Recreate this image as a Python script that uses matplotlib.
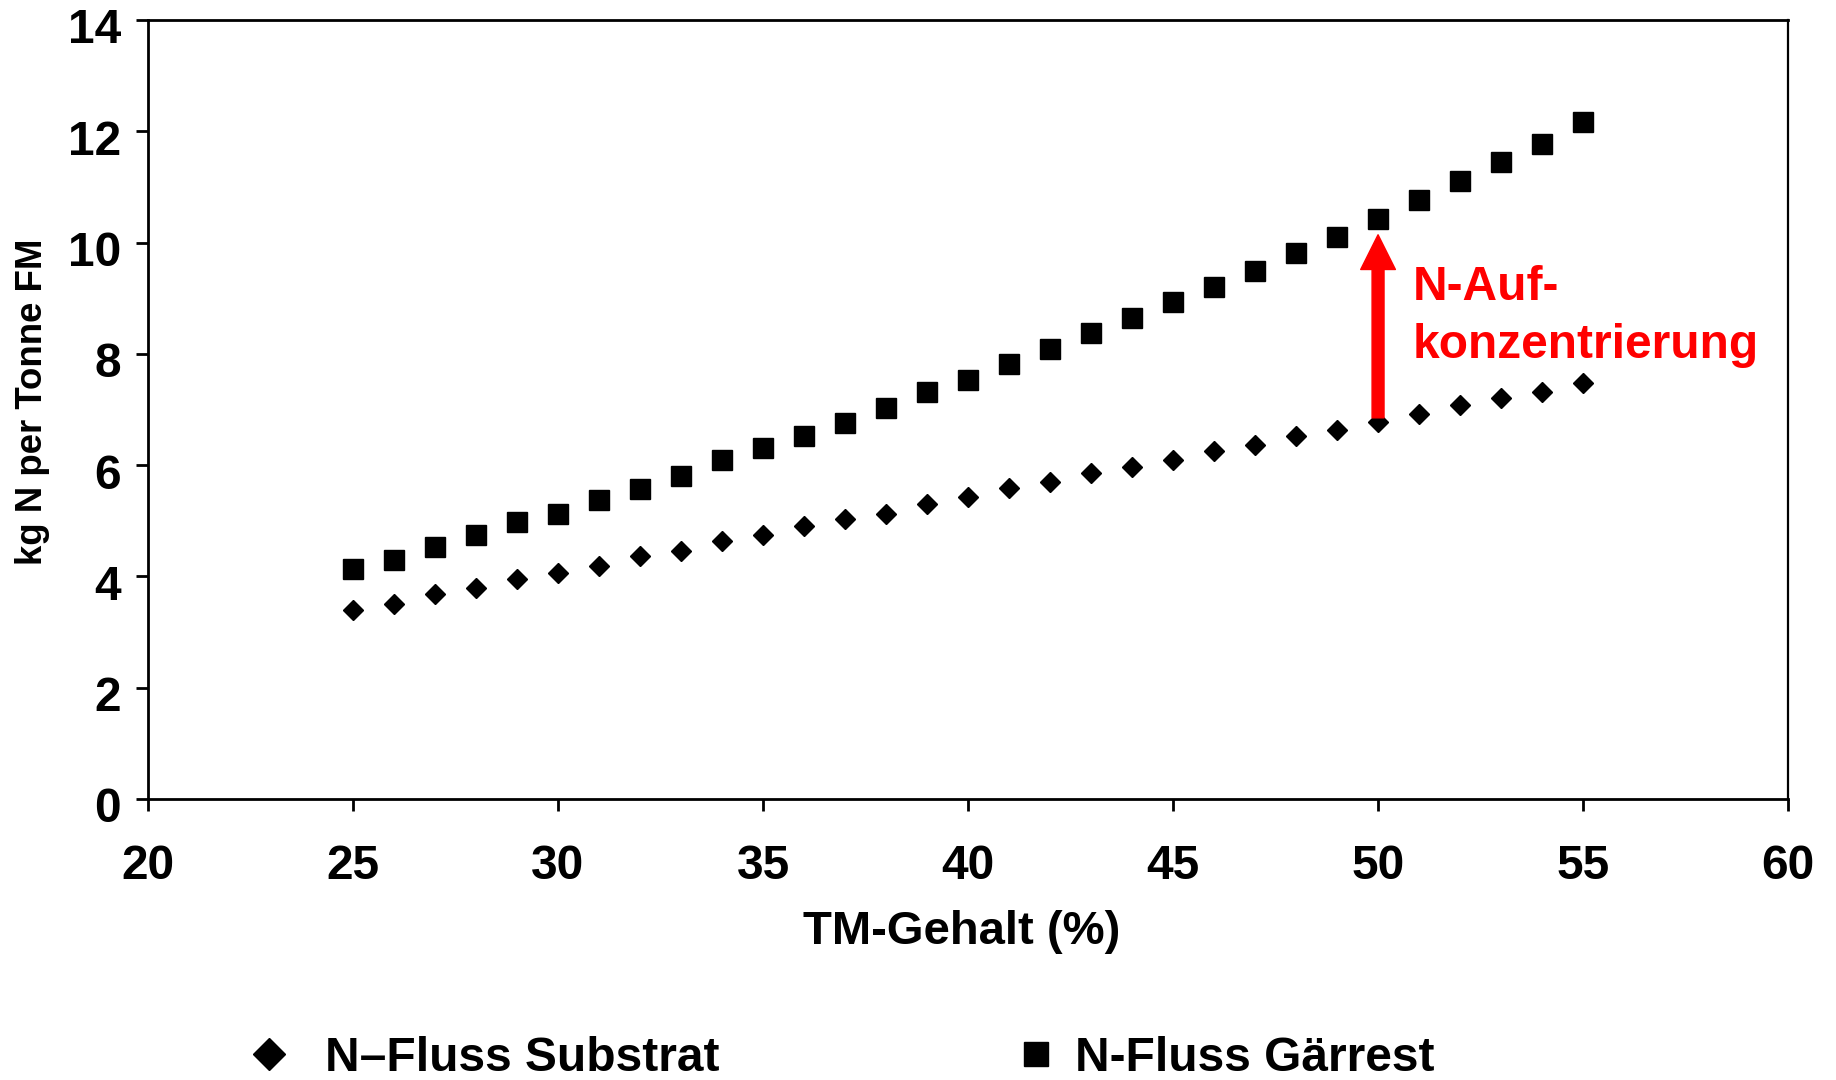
import matplotlib
matplotlib.use("Agg")
import matplotlib.pyplot as plt
from matplotlib.lines import Line2D
import matplotlib.transforms as mtransforms

plt.rcParams['font.family'] = ['Liberation Sans', 'DejaVu Sans']
plt.rcParams['font.weight'] = 'bold'

# Data
tm_gehalt = [25, 26, 27, 28, 29, 30, 31, 32, 33, 34, 35, 36, 37, 38, 39, 40,
             41, 42, 43, 44, 45, 46, 47, 48, 49, 50, 51, 52, 53, 54, 55]
n_substrat = [3.40, 3.51, 3.69, 3.79, 3.96, 4.06, 4.19, 4.36, 4.46, 4.64, 4.74,
              4.91, 5.03, 5.13, 5.30, 5.42, 5.58, 5.69, 5.86, 5.97, 6.09, 6.25,
              6.36, 6.52, 6.64, 6.78, 6.92, 7.08, 7.20, 7.32, 7.48]
n_gaerrest = [4.13, 4.29, 4.52, 4.74, 4.97, 5.13, 5.37, 5.57, 5.80, 6.09, 6.31,
              6.53, 6.75, 7.03, 7.31, 7.53, 7.81, 8.09, 8.37, 8.65, 8.93, 9.21,
              9.48, 9.82, 10.10, 10.43, 10.77, 11.10, 11.44, 11.77, 12.17]
series_labels = ["N\u2013Fluss Substrat", "N-Fluss G\u00e4rrest"]
x_ticks = [20, 25, 30, 35, 40, 45, 50, 55, 60]
y_ticks = [0, 2, 4, 6, 8, 10, 12, 14]
arrow_x = 50
arrow_from = 6.85
arrow_to = 10.14
annot_lines = ["N-Auf-", "konzentrierung"]

fig = plt.figure(figsize=(18.36, 10.8), dpi=100)
ax = fig.add_axes([0.0806, 0.2602, 0.8933, 0.7213])

ax.plot(tm_gehalt, n_substrat, linestyle='none', marker='D', markersize=10.5,
        color='black', label=series_labels[0])
ax.plot(tm_gehalt, n_gaerrest, linestyle='none', marker='s', markersize=15,
        color='black', label=series_labels[1])

ax.set_xlim(20, 60)
ax.set_ylim(0, 14)
ax.set_xticks(x_ticks)
ax.set_yticks(y_ticks)
ax.set_xticklabels([str(t) for t in x_ticks])
ax.set_yticklabels([str(t) for t in y_ticks])

for side in ['left', 'bottom', 'top', 'right']:
    ax.spines[side].set_linewidth(2.0)
    ax.spines[side].set_color('black')
ax.spines['right'].set_linewidth(1.6)

ax.tick_params(axis='both', direction='out', length=8.6, width=2.0,
               labelsize=34.5, colors='black')
ax.tick_params(axis='x', pad=24)
ax.tick_params(axis='y', pad=11)
for lab in ax.get_xticklabels() + ax.get_yticklabels():
    lab.set_fontweight('bold')
offset = mtransforms.ScaledTranslation(0, -6 / 100, fig.dpi_scale_trans)
for lab in ax.get_yticklabels():
    lab.set_transform(lab.get_transform() + offset)

ax.set_xlabel("TM-Gehalt (%)", fontsize=34, fontweight='bold', va='top')
ax.xaxis.set_label_coords(0.496, -0.143)
ax.set_ylabel("kg N per Tonne FM", fontsize=26.4, fontweight='bold')
ax.yaxis.set_label_coords(-0.0596, 0.51)

# Red arrow annotation
ax.annotate("", xy=(arrow_x, arrow_to), xytext=(arrow_x, arrow_from),
            arrowprops=dict(facecolor='#FF0000', edgecolor='#FF0000',
                            width=8.6, headwidth=25, headlength=25, shrink=0))
ax.text(50.85, 8.97, annot_lines[0], color='#FF0000', fontsize=34.5,
        fontweight='bold', ha='left', va='baseline')
ax.text(50.85, 7.93, annot_lines[1], color='#FF0000', fontsize=34.5,
        fontweight='bold', ha='left', va='baseline')

h_sub = Line2D([], [], linestyle='none', marker='D', markersize=16, color='black')
h_gr = Line2D([], [], linestyle='none', marker='s', markersize=17, color='black')
leg1 = fig.legend([h_sub], [series_labels[0]], loc='center left',
                  bbox_to_anchor=(0.1334, 0.020), frameon=False,
                  handlelength=1.0, handletextpad=0.68,
                  borderaxespad=0, borderpad=0,
                  prop={'size': 34.5, 'weight': 'bold'})
leg2 = fig.legend([h_gr], [series_labels[1]], loc='center left',
                  bbox_to_anchor=(0.5512, 0.020), frameon=False,
                  handlelength=1.0, handletextpad=0.31,
                  borderaxespad=0, borderpad=0,
                  prop={'size': 34.5, 'weight': 'bold'})

fig.savefig("out.png", dpi=100)
